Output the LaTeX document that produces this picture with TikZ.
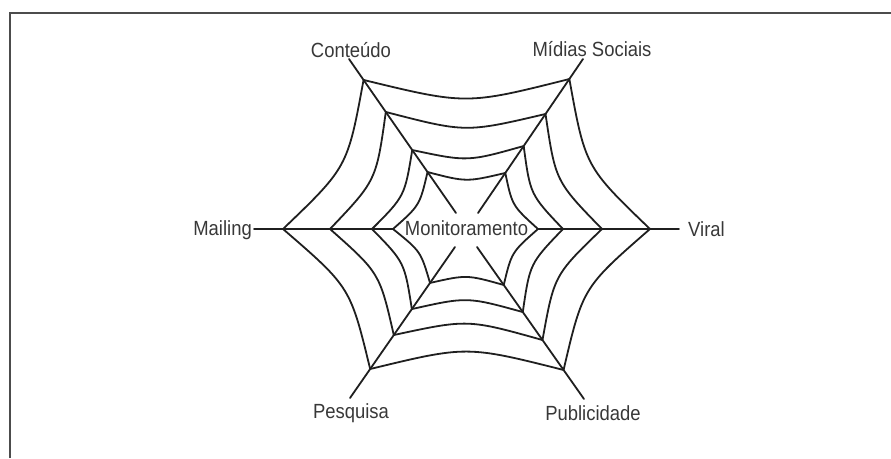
\documentclass[tikz,border=0pt]{standalone}
\usepackage{fontspec}
\setmainfont{Liberation Sans}[FakeStretch=0.9]
\usetikzlibrary{calc}
\begin{document}
\begin{tikzpicture}[x=1pt,y=-1pt,
  web/.style={line width=1.8pt, draw=black!88, line cap=round, line join=round},
  lbl/.style={font=\fontsize{20.5}{24}\selectfont, text=black!78, inner sep=0pt},
  frameline/.style={line width=1.8pt, draw=black!70}]
\useasboundingbox (0,0) rectangle (891,458);
\draw[frameline] (10,458) -- (10,13) -- (891,13);

% labels
\node[lbl, anchor=base] (cont) at (351,57) {Conteúdo};
\node[lbl, anchor=base] (midias) at (592,56) {Mídias Sociais};
\node[lbl, anchor=base east] (mail) at (252,235) {Mailing};
\node[lbl, anchor=base west] (viral) at (688,236) {Viral};
\node[lbl, anchor=base] (monit) at (466.5,235) {Monitoramento};
\node[lbl, anchor=base] (pesq) at (351,418) {Pesquisa};
\node[lbl, anchor=base] (publ) at (593,420) {Publicidade};

% centre and spoke ends
\coordinate (O) at (466,229);
\coordinate (sL) at (254,229);  \coordinate (iL) at (393,229);
\coordinate (sR) at (679,229);  \coordinate (iR) at (538,229);
\coordinate (sTL) at (349,59);  \coordinate (iTL) at (456,213);
\coordinate (sTR) at (583,59);  \coordinate (iTR) at (478,213);
\coordinate (sBL) at (350,398); \coordinate (iBL) at (455,247);
\coordinate (sBR) at (584,399); \coordinate (iBR) at (477,247);

% spokes
\draw[web] (sL) -- (iL);
\draw[web] (iR) -- (sR);
\draw[web] (sTL) -- (iTL);
\draw[web] (sTR) -- (iTR);
\draw[web] (sBL) -- (iBL);
\draw[web] (sBR) -- (iBR);

% ring vertices
\coordinate (L1) at (283,229); \coordinate (L2) at (330,229);
\coordinate (L3) at (372,229); \coordinate (L4) at (393,229);
\coordinate (R1) at (650,229); \coordinate (R2) at (602,229);
\coordinate (R3) at (563,229); \coordinate (R4) at (538,229);
\foreach \i/\t in {1/0.136, 2/0.344, 3/0.591, 4/0.734}
  \coordinate (TL\i) at ($(sTL)!\t!(iTL)$);
\foreach \i/\t in {1/0.13, 2/0.357, 3/0.565, 4/0.74}
  \coordinate (TR\i) at ($(sTR)!\t!(iTR)$);
\foreach \i/\t in {1/0.192, 2/0.417, 3/0.589, 4/0.762}
  \coordinate (BL\i) at ($(sBL)!\t!(iBL)$);
\foreach \i/\t in {1/0.191, 2/0.388, 3/0.572, 4/0.75}
  \coordinate (BR\i) at ($(sBR)!\t!(iBR)$);

% rings
\foreach \i in {1,...,4} {
  \foreach \a/\b in {L/TL, TL/TR, TR/R, R/BR, BR/BL, BL/L} {
    \draw[web] (\a\i) .. controls ($(\a\i)!.5!(\b\i)!0.17!(O)$) .. (\b\i);
  }
}
\end{tikzpicture}
\end{document}
